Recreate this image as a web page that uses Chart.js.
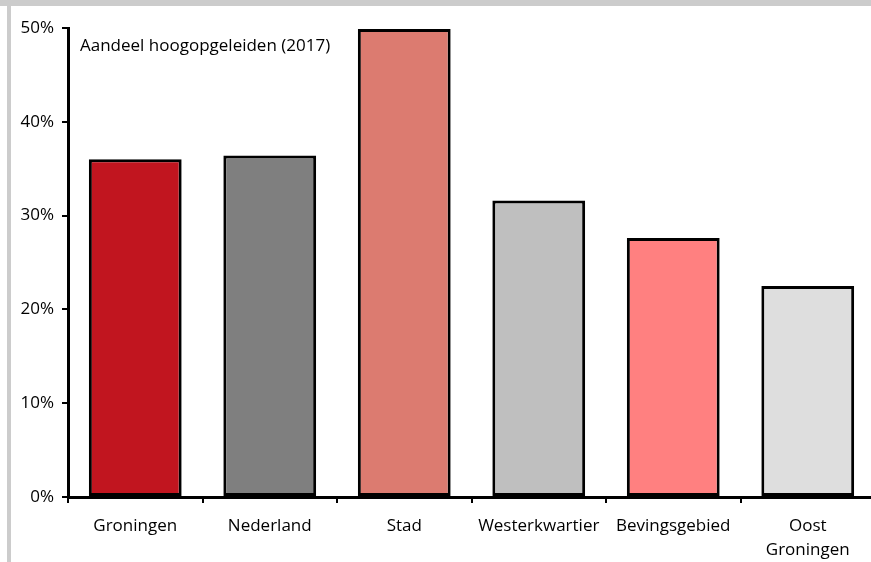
<!DOCTYPE html>
<html>
<head>
<meta charset="utf-8">
<script src="https://cdn.jsdelivr.net/npm/chart.js@4"></script>
<style>
  html, body { margin: 0; padding: 0; background: #fff; overflow: hidden; }
  #wrap { position: absolute; left: 0; top: 0; width: 880px; height: 562px; }
  .frame { position: absolute; background: #cccccc; }
</style>
</head>
<body>
<div id="wrap"><canvas id="chart"></canvas></div>
<div class="frame" style="left:0;top:0;width:871px;height:6px"></div>
<div class="frame" style="left:7px;top:0;width:4px;height:562px"></div>
<script>
// Aandeel hoogopgeleiden per gebied, 2017 (in %)
const regions = ["Groningen", "Nederland", "Stad", "Westerkwartier", "Bevingsgebied", ["Oost", "Groningen"]];
const shares = [36.0, 36.4, 49.9, 31.6, 27.6, 22.5];
const barColors = ["#c1151f", "#7f7f7f", "#dc7b70", "#bfbfbf", "#ff8080", "#dedede"];
const yTicks = [0, 10, 20, 30, 40, 50];
const caption = "Aandeel hoogopgeleiden (2017)";

const FONT = "'Open Sans', sans-serif";

// Draw the caption inside the plot, top-left.
const captionPlugin = {
    id: "caption",
    afterDraw(chart) {
        const { ctx, chartArea } = chart;
        ctx.save();
        ctx.font = "17px " + FONT;
        ctx.fillStyle = "#000";
        ctx.textBaseline = "middle";
        ctx.fillText(caption, chartArea.left + 12, chartArea.top + 18);
        ctx.restore();
    },
};

new Chart(document.getElementById("chart"), {
    type: "bar",
    data: {
        labels: regions,
        datasets: [{
            data: shares,
            backgroundColor: barColors,
            borderColor: "#000",
            borderWidth: 3,
            borderSkipped: false,
            categoryPercentage: 1,
            barPercentage: 0.69,
        }],
    },
    options: {
        responsive: true,
        maintainAspectRatio: false,
        animation: false,
        layout: { padding: { top: 28, right: 5, left: 0, bottom: 0 } },
        plugins: {
            legend: { display: false },
            tooltip: { enabled: false },
        },
        scales: {
            x: {
                offset: true,
                grid: { offset: true, drawOnChartArea: false, drawTicks: true, tickLength: 6, color: "#000", lineWidth: 2 },
                border: { color: "#000", width: 3 },
                ticks: { color: "#000", font: { family: FONT, size: 17, lineHeight: 1.4 }, padding: 11, maxRotation: 0, autoSkip: false },
                afterFit: (s) => { s.height = 65; },
            },
            y: {
                min: 0,
                max: 50,
                afterBuildTicks: (s) => { s.ticks = yTicks.map((v) => ({ value: v })); },
                grid: { drawOnChartArea: false, drawTicks: true, tickLength: 6, color: "#000", lineWidth: 2 },
                border: { color: "#000", width: 3 },
                ticks: { color: "#000", font: { family: FONT, size: 17 }, padding: 8, callback: (v) => v + "%" },
                afterFit: (s) => { s.width = 68; },
            },
        },
    },
    plugins: [captionPlugin],
});
</script>
</body>
</html>
